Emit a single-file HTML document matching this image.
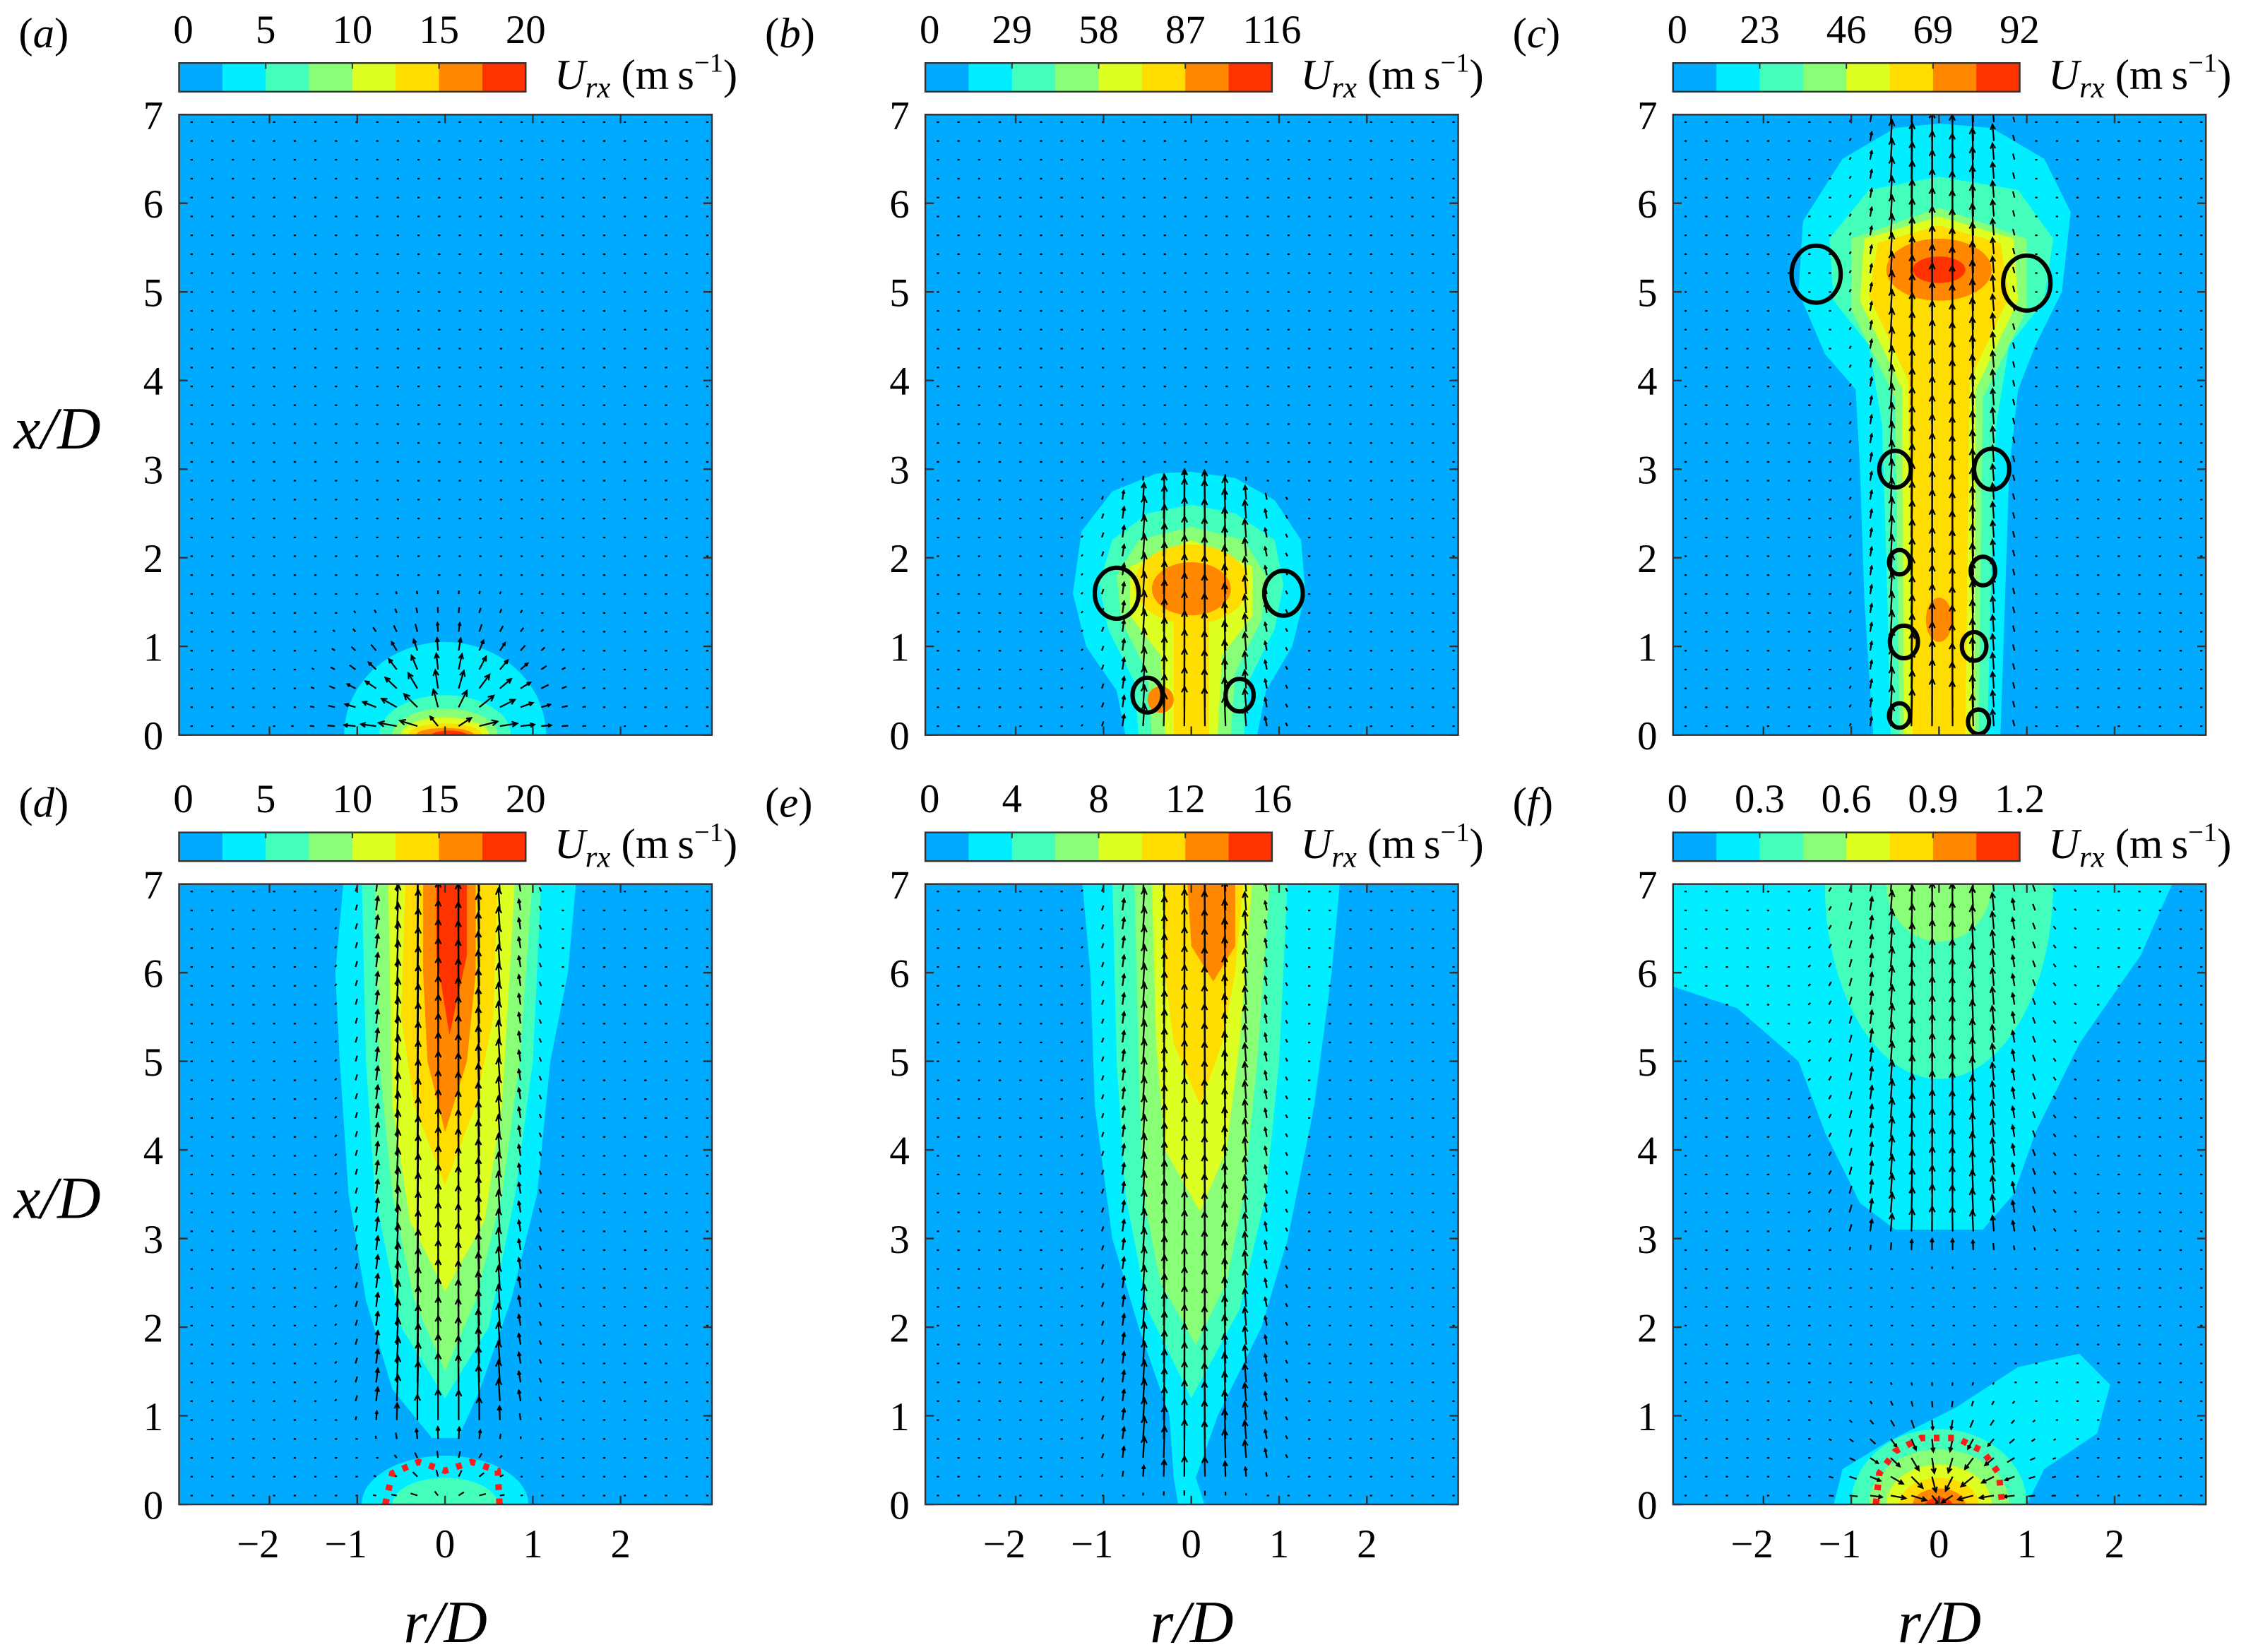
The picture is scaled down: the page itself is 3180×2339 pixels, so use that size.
<!DOCTYPE html>
<html><head><meta charset="utf-8">
<style>
html,body{margin:0;padding:0;background:#fff;}
svg{display:block;}
svg text{font-family:"Liberation Serif","Times New Roman",serif;fill:#000;}
</style></head>
<body>
<svg id="fig" width="3180" height="2339" viewBox="0 0 1568 1153" preserveAspectRatio="none" xmlns="http://www.w3.org/2000/svg" font-family="Liberation Serif, serif">
<rect x="0" y="0" width="1568" height="1153" fill="#fff"/>
<defs id="defs"></defs>
</svg>
<script>
var panelLabels = ['a','b','c','d','e','f'];
var colorbarTicks = [
  ['0','5','10','15','20'],
  ['0','29','58','87','116'],
  ['0','23','46','69','92'],
  ['0','5','10','15','20'],
  ['0','4','8','12','16'],
  ['0','0.3','0.6','0.9','1.2']
];
var levelColors = ['#00aaff','#00eeff','#44ffbb','#88ff77','#ddff22','#ffdd00','#ff8800','#ff3300'];
var xTickValues = [-2,-1,0,1,2];
var yTickValues = [0,1,2,3,4,5,6,7];

var contoursA = [
  [1,'ell',[0,0,1.15,1.05]],[2,'ell',[0,0,0.75,0.45]],[3,'ell',[0,0,0.6,0.3]],
  [4,'ell',[0,0,0.5,0.2]],[5,'ell',[0,0,0.42,0.13]],[6,'ell',[0,0,0.33,0.08]],[7,'ell',[0.05,0,0.2,0.05]]
];
var contoursB = [
  [1,'poly',[[-0.75,0],[-0.85,0.5],[-1.2,1.0],[-1.35,1.6],[-1.25,2.3],[-0.9,2.75],[-0.4,2.95],[0,2.97],[0.5,2.9],[0.95,2.65],[1.25,2.2],[1.3,1.6],[1.15,1.0],[0.85,0.5],[0.75,0]]],
  [2,'poly',[[-0.6,0],[-0.65,0.6],[-0.95,1.2],[-1.05,1.7],[-0.9,2.2],[-0.5,2.5],[0,2.6],[0.5,2.5],[0.95,2.2],[1.05,1.7],[0.95,1.2],[0.65,0.6],[0.6,0]]],
  [3,'poly',[[-0.45,0],[-0.5,0.7],[-0.8,1.3],[-0.85,1.8],[-0.6,2.2],[0,2.35],[0.6,2.2],[0.85,1.8],[0.8,1.3],[0.5,0.7],[0.45,0]]],
  [4,'poly',[[-0.3,0],[-0.35,0.9],[-0.7,1.35],[-0.7,1.9],[0,2.2],[0.7,1.9],[0.7,1.35],[0.35,0.9],[0.3,0]]],
  [5,'ell',[0,1.7,0.65,0.45]],[5,'poly',[[-0.2,0],[-0.2,1.5],[0.2,1.5],[0.2,0]]],
  [6,'ell',[0,1.65,0.45,0.3]],[6,'ell',[-0.35,0.4,0.15,0.15]]
];
var contoursC = [
  [1,'poly',[[-0.75,0],[-0.85,1.5],[-0.9,3],[-0.95,3.9],[-1.3,4.3],[-1.6,5],[-1.55,5.8],[-1.1,6.5],[-0.5,6.85],[0,6.9],[0.6,6.85],[1.2,6.5],[1.5,5.9],[1.4,5.0],[1.1,4.4],[0.9,3.9],[0.8,3],[0.75,1.5],[0.7,0]]],
  [2,'poly',[[-0.55,0],[-0.6,2],[-0.65,3.5],[-0.8,4.4],[-1.2,4.9],[-1.25,5.6],[-0.8,6.15],[0,6.3],[0.9,6.15],[1.3,5.6],[1.2,4.9],[0.8,4.4],[0.65,3.5],[0.6,2],[0.55,0]]],
  [3,'poly',[[-0.45,0],[-0.5,3.8],[-1.0,4.8],[-1.0,5.6],[0,5.95],[1.0,5.6],[1.0,4.8],[0.5,3.8],[0.45,0]]],
  [4,'poly',[[-0.4,0],[-0.42,3.9],[-0.9,4.9],[-0.85,5.6],[0,5.85],[0.85,5.6],[0.9,4.9],[0.42,3.9],[0.4,0]]],
  [5,'poly',[[-0.3,0],[-0.35,4.0],[-0.8,4.95],[-0.7,5.55],[0,5.75],[0.7,5.55],[0.8,4.95],[0.35,4.0],[0.3,0]]],
  [6,'ell',[0,5.25,0.6,0.35]],[6,'ell',[0,1.3,0.15,0.25]],[7,'ell',[0,5.25,0.3,0.15]]
];
var contoursD = [
  [1,'poly',[[-0.15,0.75],[-0.6,1.3],[-0.9,2.3],[-1.1,3.5],[-1.2,5],[-1.25,6],[-1.15,7.1],[1.5,7.1],[1.4,6],[1.2,5],[1.05,3.5],[0.75,2.3],[0.4,1.3],[0.15,0.75]]],
  [1,'ell',[0,0,0.95,0.55]],
  [2,'poly',[[0,1.2],[-0.5,2],[-0.8,3.5],[-0.9,5],[-0.95,7.1],[1.1,7.1],[1,5],[0.8,3.5],[0.5,2]]],
  [2,'ell',[0,0,0.6,0.3]],
  [3,'poly',[[0,1.5],[-0.35,2.3],[-0.6,3.5],[-0.75,5],[-0.8,7.1],[1.0,7.1],[0.85,5],[0.65,3.5],[0.35,2.3]]],
  [4,'poly',[[0,2.4],[-0.4,3.2],[-0.6,4.5],[-0.65,7.1],[0.8,7.1],[0.65,4.5],[0.45,3.2]]],
  [5,'poly',[[0,3.6],[-0.35,4.5],[-0.5,5.5],[-0.45,7.1],[0.6,7.1],[0.55,5.5],[0.35,4.5]]],
  [6,'poly',[[0,4.2],[-0.2,5],[-0.25,6],[-0.25,7.1],[0.35,7.1],[0.35,6],[0.25,5]]],
  [7,'poly',[[0.05,5.3],[-0.1,6.2],[-0.1,7.1],[0.25,7.1],[0.25,6.2]]]
];
var contoursE = [
  [1,'poly',[[-0.15,0],[-0.2,0.3],[-0.25,1],[-0.6,2],[-0.9,3],[-1.1,4.5],[-1.15,6],[-1.25,7.1],[1.7,7.1],[1.6,6],[1.4,4.5],[1.1,3],[0.8,2],[0.3,1],[0.05,0.3],[0.15,0]]],
  [2,'poly',[[0,1.2],[-0.5,2.2],[-0.75,3.5],[-0.85,5],[-0.9,7.1],[1.1,7.1],[1.0,5],[0.85,3.5],[0.55,2.2]]],
  [3,'poly',[[0.05,1.8],[-0.35,2.5],[-0.55,3.5],[-0.6,5],[-0.65,7.1],[0.9,7.1],[0.75,5],[0.6,3.5],[0.4,2.5]]],
  [4,'poly',[[0.1,3.3],[-0.3,4],[-0.4,5.2],[-0.45,7.1],[0.7,7.1],[0.55,5.2],[0.4,4]]],
  [5,'poly',[[0.1,4.5],[-0.2,5.2],[-0.3,6],[-0.3,7.1],[0.6,7.1],[0.5,6],[0.35,5.2]]],
  [6,'poly',[[0.25,5.9],[0,6.3],[-0.05,7.1],[0.5,7.1],[0.5,6.3]]]
];
var contoursF = [
  [1,'poly',[[-3.2,7.1],[-3.2,5.9],[-2.3,5.6],[-1.6,5],[-1.3,4.2],[-0.9,3.4],[-0.5,3.1],[0.5,3.1],[0.85,3.5],[1.1,4.2],[1.6,5.2],[2.3,6.2],[2.7,7.1]]],
  [1,'poly',[[-1.2,0],[-1.1,0.4],[-0.6,0.7],[0.2,1.1],[0.9,1.55],[1.6,1.7],[1.95,1.35],[1.8,0.8],[1.2,0.4],[1.0,0]]],
  [2,'ell',[0,7,1.3,2.2]],[3,'ell',[0,7,0.6,0.65]],
  [2,'ell',[0,0,1.0,0.85]],[3,'ell',[0,0,0.8,0.62]],[4,'ell',[0,0,0.6,0.45]],
  [5,'ell',[0,0,0.45,0.3]],[6,'ell',[0,0,0.3,0.18]],[7,'ell',[0,0,0.15,0.08]]
];
var allContours = [contoursA,contoursB,contoursC,contoursD,contoursE,contoursF];

var ringsB = [[-0.85,1.6,0.25],[1.05,1.6,0.22],[-0.5,0.45,0.17],[0.55,0.45,0.16]];
var ringsC = [[-1.4,5.2,0.28],[1.0,5.1,0.27],[-0.5,3.0,0.18],[0.6,3.0,0.2],[-0.45,1.95,0.12],[0.5,1.85,0.14],[-0.4,1.05,0.16],[0.4,1.0,0.14],[-0.45,0.22,0.12],[0.45,0.15,0.12]];
var allRings = [[],ringsB,ringsC,[],[],[]];
var redD = [[-0.68,0],[-0.6,0.35],[-0.3,0.48],[0,0.38],[0.3,0.48],[0.6,0.38],[0.62,0]];
var redF = [[-0.72,0],[-0.68,0.35],[-0.5,0.6],[-0.2,0.75],[0.2,0.75],[0.5,0.6],[0.68,0.35],[0.72,0]];
var allRed = [null,null,null,redD,null,redF];

var jetAmp = [0,2.0,2.4,2.4,2.0,1.4];
var jetWidth = [0.5,0.7,0.6,0.7,0.7,0.9];
var jetXmin = [0,0,0,1.2,0.6,3.2];
var jetXmax = [0,2.5,6.8,7.2,7.2,7.2];
var domeAmp = [1.6,0,0,0.7,0,1.4];
var domeRad = [1.1,1,1,0.7,1,1.0];

var NS='http://www.w3.org/2000/svg';
var FONT='Liberation Serif, Times New Roman, serif';
var fig=document.getElementById('fig');
var defsEl=document.getElementById('defs');
var colX=[125,646,1168], rowTop=[80,617], PW=372, PH=433;
var R0=-3.03, R1=3.04, XMAX=7;
function mk(tag,attrs,parent){
  var e=document.createElementNS(NS,tag);
  for(var k in attrs){ e.setAttribute(k,String(attrs[k])); }
  if(tag==='text'){ e.setAttribute('font-family',FONT); }
  (parent||fig).appendChild(e);
  return e;
}
function ts(parent,txt,attrs){
  var e=mk('tspan',attrs||{},parent);
  e.textContent=txt;
  return e;
}

function drawPanel(i){
  var lab=panelLabels[i];
  var col=i%3,row=Math.floor(i/3);
  var x0=colX[col], y0=rowTop[row], yb=y0+PH;
  function X(r){return x0+(r-R0)/(R1-R0)*PW;}
  function Y(x){return yb-x/XMAX*PH;}
  var g=mk('g',{});
  
  
  var cp=mk('clipPath',{id:'clip'+i},defsEl);
  mk('rect',{x:x0,y:y0,width:PW,height:PH},cp);
  var bg=mk('rect',{x:x0,y:y0,width:PW,height:PH,fill:levelColors[0]},g);
  
  
  var cg=mk('g',{'clip-path':'url(#clip'+i+')'},g);
  allContours[i].forEach(function(c){
    var el;
    if(c[1]==='ell'){
      var p=c[2];
      el=mk('ellipse',{cx:X(p[0]),cy:Y(p[1]),rx:p[2]/(R1-R0)*PW,ry:p[3]/XMAX*PH,fill:levelColors[c[0]]},cg);
    }else{
      el=mk('polygon',{points:c[2].map(function(pt){return X(pt[0]).toFixed(1)+','+Y(pt[1]).toFixed(1);}).join(' '),fill:levelColors[c[0]]},cg);
    }
    
    
  });
  var d='';
  var A=jetAmp[i],W=jetWidth[i],xa=jetXmin[i],xb=jetXmax[i],DA=domeAmp[i],DR=domeRad[i];
  for(var r=-2.9;r<3.0;r+=0.235){
    for(var x=0.1;x<7;x+=0.213){
      var u=0,v=0;
      if(A>0){
        var env = x<xa? Math.exp(-Math.pow((xa-x)/0.35,2)) : (x>xb? Math.exp(-Math.pow((x-xb)/0.3,2)):1);
        var gs=Math.exp(-Math.pow(r/W,2));
        v+=A*gs*env;
        u+=-0.15*r*Math.exp(-Math.pow(r/(2*W),2))*env;
      }
      if(DA>0){
        var dd=Math.sqrt(r*r+x*x);
        var s=DA*Math.exp(-Math.pow(dd/DR,2))/(dd+0.2);
        var sg=(i===5?-1:1);
        u+=r*s*sg; v+=x*s*sg;
      }
      var dx=u*14, dy=-v*14;
      var L=Math.sqrt(dx*dx+dy*dy);
      if(L<1.6){dx=1.6;dy=0;L=1.6;}
      var px=X(r),py=Y(x);
      var ex=px+dx, ey=py+dy;
      d+='M'+px.toFixed(1)+' '+py.toFixed(1)+'L'+ex.toFixed(1)+' '+ey.toFixed(1);
      if(L>6){
        var ux=dx/L,uy=dy/L,h=Math.min(4,L*0.3);
        d+='M'+(ex-ux*h-uy*h*0.5).toFixed(1)+' '+(ey-uy*h+ux*h*0.5).toFixed(1)+'L'+ex.toFixed(1)+' '+ey.toFixed(1)+'L'+(ex-ux*h+uy*h*0.5).toFixed(1)+' '+(ey-uy*h-ux*h*0.5).toFixed(1);
      }
    }
  }
  var qv=mk('path',{d:d,stroke:'#000','stroke-width':1.1,fill:'none'},cg);
  
  
  allRings[i].forEach(function(rg){
    var e=mk('ellipse',{cx:X(rg[0]),cy:Y(rg[1]),rx:rg[2]/(R1-R0)*PW,ry:rg[2]*1.15/XMAX*PH,fill:'none',stroke:'#000','stroke-width':3},cg);
    
    
  });
  if(allRed[i]){
    var e=mk('polyline',{points:allRed[i].map(function(pt){return X(pt[0]).toFixed(1)+','+Y(pt[1]).toFixed(1);}).join(' '),fill:'none',stroke:'#ff1a1a','stroke-width':4.5,'stroke-dasharray':'4 6'},cg);
    
    
  }
  mk('rect',{x:x0,y:y0,width:PW,height:PH,fill:'none',stroke:'#333','stroke-width':1.2},g);
  var t='';
  xTickValues.forEach(function(v){var px=X(v);t+='M'+px+' '+yb+'v-6M'+px+' '+y0+'v6';});
  yTickValues.forEach(function(v){var py=Y(v);t+='M'+x0+' '+py+'h6M'+(x0+PW)+' '+py+'h-6';});
  mk('path',{d:t,stroke:'#333','stroke-width':1.2,fill:'none'},g);
  yTickValues.forEach(function(v){
    var e=mk('text',{x:x0-11,y:Y(v)+10,'font-size':28,'text-anchor':'end'},g);
    e.textContent=String(v);
    
    
  });
  if(row===1){
    xTickValues.forEach(function(v){
      var e=mk('text',{x:X(v)-(v<0?8:0),y:yb+37,'font-size':28,'text-anchor':'middle'},g);
      e.textContent=v<0?'\u2212'+(-v):String(v);
      
      
    });
    var xt=mk('text',{x:x0+186,y:yb+96,'font-size':42,'text-anchor':'middle','font-style':'italic'},g);
    xt.textContent='r/D';
    
    
  }
  if(col===0){
    var yt=mk('text',{x:40,y:y0+233,'font-size':42,'text-anchor':'middle','font-style':'italic'},g);
    yt.textContent='x/D';
    
    
  }
  var pl=mk('text',{x:x0-112,y:y0-47,'font-size':30},g);
  ts(pl,'(');
  ts(pl,lab,{'font-style':'italic'});
  ts(pl,')');
  
  
  var cb=mk('g',{},g);
  
  
  var by=y0-36, bw=242, bh=20;
  levelColors.forEach(function(c,k){mk('rect',{x:x0+k*bw/8,y:by,width:bw/8+0.3,height:bh,fill:c},cb);});
  mk('rect',{x:x0,y:by,width:bw,height:bh,fill:'none',stroke:'#333','stroke-width':1.2},cb);
  var ct='';[2,4,6].forEach(function(k){ct+='M'+(x0+k*bw/8)+' '+by+'v4';});
  mk('path',{d:ct,stroke:'#333','stroke-width':1},cb);
  colorbarTicks[i].forEach(function(s,k){
    var e=mk('text',{x:x0+k*bw/4+(k===0?3:0),y:by-14,'font-size':28,'text-anchor':'middle'},cb);
    e.textContent=s;
    
    
  });
  var ul=mk('text',{x:x0+262,y:by+18,'font-size':30},cb);
  ts(ul,'U',{'font-style':'italic'});
  ts(ul,'rx',{'font-style':'italic','font-size':21,dy:6});
  ts(ul,' (m\u2009s',{dy:-6});
  ts(ul,'\u22121',{'font-size':19,dy:-12});
  ts(ul,')',{dy:12});
  
  
}
for(var pi=0;pi<6;pi++){
  try{ drawPanel(pi); }catch(err){ if(window.console) console.log(err); }
}
</script>
</body></html>
